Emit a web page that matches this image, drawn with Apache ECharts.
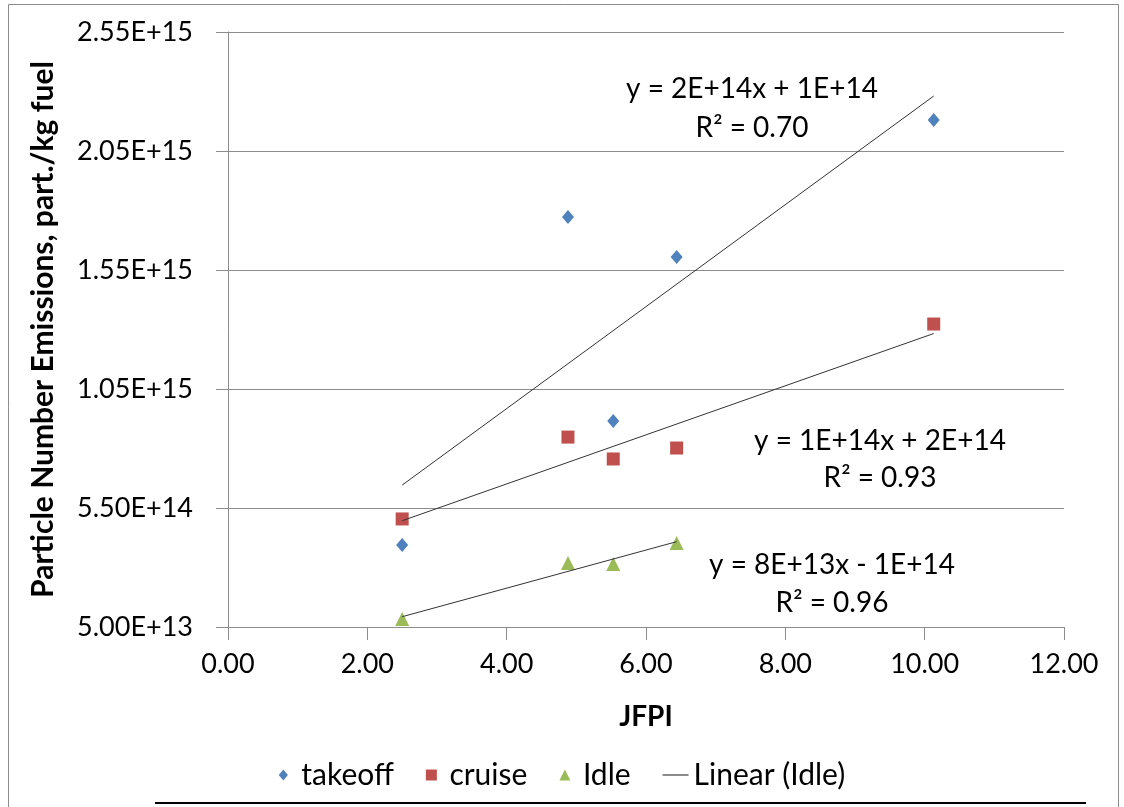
<!DOCTYPE html>
<html>
<head>
<meta charset="utf-8">
<script src="https://cdn.jsdelivr.net/npm/echarts@6/dist/echarts.min.js"></script>
<style>
html,body{margin:0;padding:0;background:#fff;}
#chart{width:1124px;height:807px;}
</style>
</head>
<body>
<div id="chart"></div>
<script>
// ---- data ----
const jfpi = [2.50, 4.88, 5.53, 6.44, 10.13];
const takeoffValues = [3.95e14, 1.773e15, 9.16e14, 1.605e15, 2.18e15];
const cruiseValues = [5.04e14, 8.48e14, 7.56e14, 8.02e14, 1.323e15];
const idleJfpi = [2.50, 4.88, 5.53, 6.44];
const idleValues = [8.4e13, 3.19e14, 3.15e14, 4.03e14];
const yTicks = [5.0e13, 5.5e14, 1.05e15, 1.55e15, 2.05e15, 2.55e15];
const xTicks = [0, 2, 4, 6, 8, 10, 12];
const legendNames = ['takeoff', 'cruise', 'Idle', 'Linear (Idle)'];
const equations = [
  ['y = 2E+14x + 1E+14', 'R² = 0.70'],
  ['y = 1E+14x + 2E+14', 'R² = 0.93'],
  ['y = 8E+13x - 1E+14', 'R² = 0.96']
];

function pairs(xs, ys){ return xs.map((x,i)=>[x, ys[i]]); }
function linFit(xs, ys){
  const n = xs.length;
  const mx = xs.reduce((a,b)=>a+b,0)/n, my = ys.reduce((a,b)=>a+b,0)/n;
  let sxy=0, sxx=0;
  for(let i=0;i<n;i++){ sxy += (xs[i]-mx)*(ys[i]-my); sxx += (xs[i]-mx)*(xs[i]-mx); }
  const b = sxy/sxx, a = my - b*mx;
  const x0 = Math.min(...xs), x1 = Math.max(...xs);
  return [[x0, a+b*x0],[x1, a+b*x1]];
}

const FONT = 'Lato';
const EQ_FONT = '28px Lato';
const chart = echarts.init(document.getElementById('chart'));
const lineStyle = {color:'#333', width:1};
function eqText(x, y, t){
  return {type:'text', x:x, y:y, style:{text:t, font:EQ_FONT, fill:'#000', align:'center', verticalAlign:'middle'}};
}
chart.setOption({
  animation:false,
  backgroundColor:'#fff',
  textStyle:{fontFamily:FONT},
  grid:{left:228, right:60, top:32, bottom:180, containLabel:false},
  xAxis:{
    type:'value', min:xTicks[0], max:xTicks[xTicks.length-1], interval:2,
    name:'JFPI', nameLocation:'middle', nameGap:76,
    nameTextStyle:{fontFamily:FONT, fontSize:28, fontWeight:'bold', color:'#000'},
    axisLine:{show:true, lineStyle:{color:'#8c8c8c'}},
    axisTick:{show:true, length:13, lineStyle:{color:'#8c8c8c'}},
    axisLabel:{fontFamily:FONT, fontSize:27, color:'#000', margin:24,
      formatter:v=>v.toFixed(2)},
    splitLine:{show:false}
  },
  yAxis:{
    type:'value', min:yTicks[0], max:yTicks[yTicks.length-1], interval:5e14,
    name:'Particle Number Emissions, part./kg fuel', nameLocation:'middle', nameGap:170,
    nameTextStyle:{fontFamily:FONT, fontSize:30, fontWeight:'bold', color:'#000'},
    axisLine:{show:true, lineStyle:{color:'#8c8c8c'}},
    axisTick:{show:true, length:12, lineStyle:{color:'#8c8c8c'}},
    axisLabel:{fontFamily:FONT, fontSize:27, color:'#000', margin:35,
      formatter:v=>v.toExponential(2).toUpperCase()},
    splitLine:{show:true, lineStyle:{color:'#8c8c8c', width:1}}
  },
  legend:{
    bottom:12, left:'center', itemGap:32, itemWidth:26, itemHeight:11,
    symbolKeepAspect:true,
    textStyle:{fontFamily:FONT, fontSize:30, color:'#000'},
    data:[
      {name:legendNames[0], icon:'path://M5,0 L10,6 L5,12 L0,6 Z'},
      {name:legendNames[1], icon:'path://M0,0 L10,0 L10,10 L0,10 Z'},
      {name:legendNames[2], icon:'path://M5,0 L10,10 L0,10 Z'},
      {name:legendNames[3], icon:'path://M0,0 L30,0 L30,1.3 L0,1.3 Z', itemStyle:{color:'#333'}}
    ]
  },
  series:[
    {name:legendNames[0], type:'scatter', symbol:'diamond', symbolSize:[12,14],
      itemStyle:{color:'#4F81BD', opacity:1}, data:pairs(jfpi, takeoffValues), z:3},
    {name:legendNames[1], type:'scatter', symbol:'rect', symbolSize:13,
      itemStyle:{color:'#C0504D', opacity:1}, data:pairs(jfpi, cruiseValues), z:3},
    {name:legendNames[2], type:'scatter', symbol:'triangle', symbolSize:14,
      itemStyle:{color:'#9BBB59', opacity:1}, data:pairs(idleJfpi, idleValues), z:3},
    {name:'Linear (takeoff)', type:'line', symbol:'none', lineStyle:lineStyle, itemStyle:{color:'#333'},
      data:linFit(jfpi, takeoffValues), z:4},
    {name:'Linear (cruise)', type:'line', symbol:'none', lineStyle:lineStyle, itemStyle:{color:'#333'},
      data:linFit(jfpi, cruiseValues), z:4},
    {name:legendNames[3], type:'line', symbol:'none', lineStyle:lineStyle, itemStyle:{color:'#333'},
      data:linFit(idleJfpi, idleValues), z:4}
  ],
  graphic:[
    {type:'rect', shape:{x:8.5, y:4.5, width:1110, height:840}, style:{fill:'none', stroke:'#8c8c8c', lineWidth:1}, z:-1},
    {type:'rect', shape:{x:155, y:802, width:931, height:2}, style:{fill:'#000'}},
    eqText(752, 89, equations[0][0]),
    eqText(752, 128, equations[0][1]),
    eqText(880, 441, equations[1][0]),
    eqText(880, 478, equations[1][1]),
    eqText(832, 565, equations[2][0]),
    eqText(832, 603, equations[2][1])
  ]
});
</script>
</body>
</html>
